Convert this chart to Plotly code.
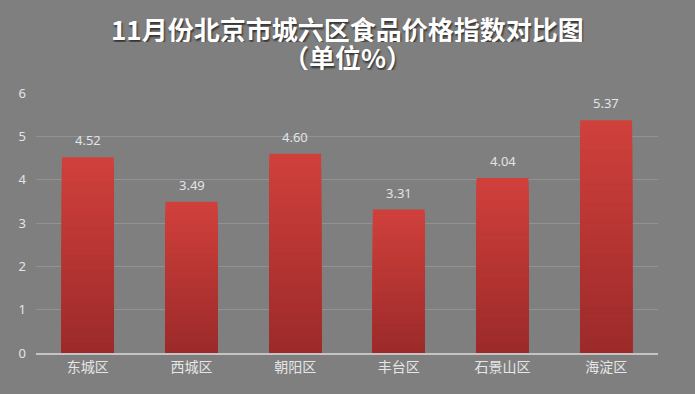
import plotly.graph_objects as go

districts = ["东城区", "西城区", "朝阳区", "丰台区", "石景山区", "海淀区"]
values = [4.52, 3.49, 4.60, 3.31, 4.04, 5.37]
y_ticks = [0, 1, 2, 3, 4, 5, 6]

title_line1 = "<b>11月份北京市城六区食品价格指数对比图</b>"
title_line2 = "<b>（单位%）</b>"

top_rgb = (208, 64, 59)
bot_rgb = (156, 42, 42)
steps = 40

fig = go.Figure()
# stepped vertical gradient per bar: overlay bars at decreasing fractions of each value
for i in range(steps):
    f = 1 - i / steps
    t = i / (steps - 1)
    c = tuple(round(top_rgb[k] + (bot_rgb[k] - top_rgb[k]) * t) for k in range(3))
    fig.add_trace(go.Bar(
        x=districts, y=[v * f for v in values],
        marker=dict(color="rgb(%d,%d,%d)" % c, line=dict(width=0)),
        width=0.5, hoverinfo="skip" if i else "y", showlegend=False,
    ))

for d, v in zip(districts, values):
    fig.add_annotation(x=d, y=v, text="%.2f" % v, showarrow=False, yshift=17,
                       yanchor="middle",
                       font=dict(size=13, color="#e2e4e8", family="Noto Sans, DejaVu Sans"))

title_font = dict(size=26, color="white", family="Noto Sans CJK SC",
                  shadow="1px 2px 2px rgba(35,35,35,0.85)")
fig.add_annotation(xref="paper", yref="paper", x=0.5, y=1, yshift=65,
                   xanchor="center", yanchor="middle", showarrow=False, height=27,
                   text=title_line1, font=title_font)
fig.add_annotation(xref="paper", yref="paper", x=0.5, y=1, yshift=37,
                   xanchor="center", yanchor="middle", showarrow=False, height=27,
                   text=title_line2, font=title_font)

fig.update_layout(
    barmode="overlay",
    width=695, height=394,
    paper_bgcolor="#7f7f7f", plot_bgcolor="#7f7f7f",
    margin=dict(l=36, r=37, t=93, b=41),
    xaxis=dict(showgrid=False, showline=True, linecolor="#c4c4c4", linewidth=2,
               ticks="", tickfont=dict(size=14, color="#e6e6e6", family="Noto Sans CJK SC")),
    yaxis=dict(range=[0, 6], tickvals=y_ticks, showgrid=True, gridcolor="#929292",
               gridwidth=1, zeroline=False, showline=False, ticks="",
               ticklabelstandoff=9,
               tickfont=dict(size=13, color="#e2e4e8", family="Noto Sans, DejaVu Sans")),
)

fig.write_html("out.html", config={"displayModeBar": False},
               post_script="document.body.style.margin='0';"
                           "document.body.style.background='#7f7f7f';")
